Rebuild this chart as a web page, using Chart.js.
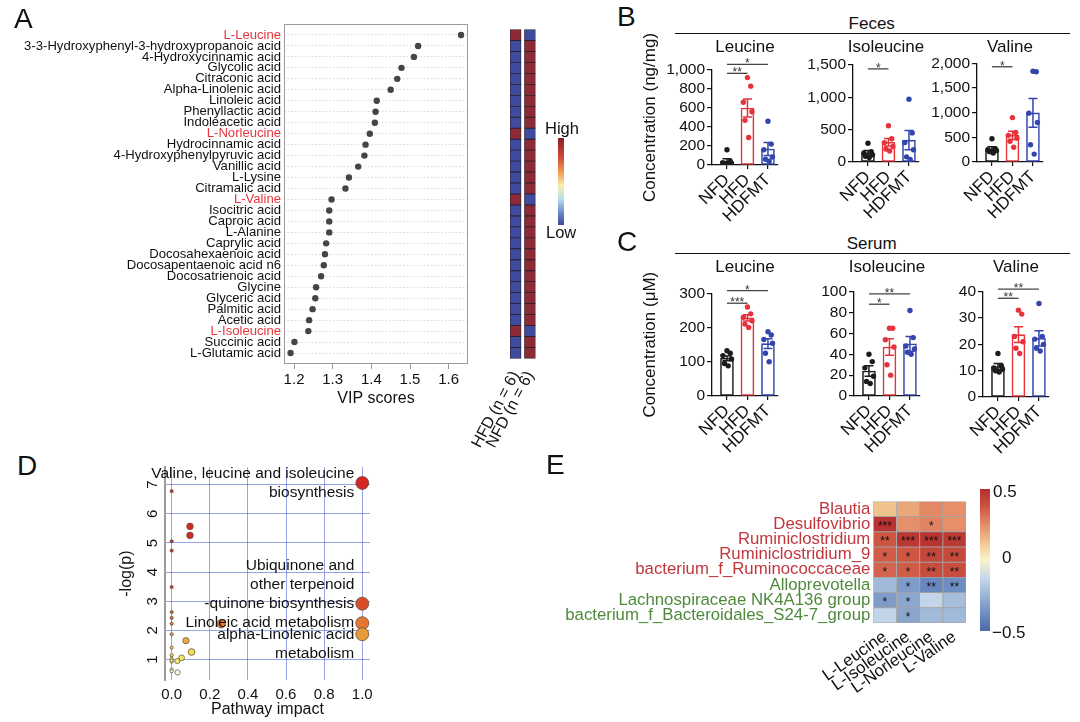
<!DOCTYPE html>
<html>
<head>
<meta charset="utf-8">
<title>BCAA figure</title>
<script src="https://cdn.jsdelivr.net/npm/chart.js@4.4.1/dist/chart.umd.min.js"></script>
<style>
  body { margin: 0; background: #fff; }
  #fig { position: relative; width: 1080px; height: 722px; overflow: hidden; background: #fff;
         font-family: "Liberation Sans", Arial, sans-serif; color: #111; }
  #fig canvas { position: absolute; }
  .txt { position: absolute; white-space: nowrap; line-height: 1; }
  .rule { position: absolute; height: 0; border-top: 1.5px solid #111; }
  .swatch { position: absolute; }
</style>
</head>
<body>
<div id="fig"></div>
<script>
/* globals Chart:false */

// ---- A: VIP scores of the discriminating metabolites
const metabolites = ['L-Leucine', '3-3-Hydroxyphenyl-3-hydroxypropanoic acid', '4-Hydroxycinnamic acid',
    'Glycolic acid', 'Citraconic acid', 'Alpha-Linolenic acid', 'Linoleic acid', 'Phenyllactic acid',
    'Indoleacetic acid', 'L-Norleucine', 'Hydrocinnamic acid', '4-Hydroxyphenylpyruvic acid', 'Vanillic acid',
    'L-Lysine', 'Citramalic acid', 'L-Valine', 'Isocitric acid', 'Caproic acid', 'L-Alanine', 'Caprylic acid',
    'Docosahexaenoic acid', 'Docosapentaenoic acid n6', 'Docosatrienoic acid', 'Glycine', 'Glyceric acid',
    'Palmitic acid', 'Acetic acid', 'L-Isoleucine', 'Succinic acid', 'L-Glutamic acid'];
const vipScores = [1.632, 1.521, 1.510, 1.478, 1.467, 1.450, 1.414, 1.411, 1.409, 1.396, 1.385, 1.382, 1.366,
    1.342, 1.333, 1.297, 1.291, 1.291, 1.291, 1.283, 1.280, 1.277, 1.270, 1.257, 1.255, 1.248, 1.239, 1.237,
    1.201, 1.191];
const vipTicks = [1.2, 1.3, 1.4, 1.5, 1.6];
const bcaaNames = ['L-Leucine', 'L-Norleucine', 'L-Valine', 'L-Isoleucine'];
const heatGroups = ['HFD (n = 6)', 'NFD (n = 6)'];
const hfdLevel = [1, 0, 0, 0, 0, 0, 0, 0, 0, 1, 0, 0, 0, 0, 0, 1, 0, 0, 0, 0, 0, 0, 0, 0, 0, 0, 0, 1, 0, 0];
const nfdLevel = [0, 1, 1, 1, 1, 1, 1, 1, 1, 0, 1, 1, 1, 1, 1, 0, 1, 1, 1, 1, 1, 1, 1, 1, 1, 1, 1, 0, 1, 1];

// ---- B / C: concentrations per group (points, mean, SEM)
const groups = ['NFD', 'HFD', 'HDFMT'];
const fecesLeuPoints = [[160, 40, 25, 15, 10, 5], [920, 830, 660, 560, 470, 290], [460, 220, 160, 85, 60, 40]];
const fecesLeuMean = [42, 600, 168];
const fecesLeuSem = [25, 95, 68];
const fecesLeuSig = [[0, 1, 965, '**'], [0, 2, 1060, '*']];

const fecesIlePoints = [[290, 160, 140, 110, 90, 70], [560, 360, 300, 240, 200, 170], [970, 450, 300, 190, 80, 40]];
const fecesIleMean = [143, 305, 338];
const fecesIleSem = [33, 58, 150];
const fecesIleSig = [[0, 1, 1440, '*']];

const fecesValPoints = [[470, 270, 250, 230, 210, 180], [900, 600, 540, 480, 420, 300], [1840, 1830, 990, 800, 350, 160]];
const fecesValMean = [268, 540, 995];
const fecesValSem = [42, 85, 290];
const fecesValSig = [[0, 1, 1930, '*']];

const serumLeuPoints = [[132, 125, 118, 108, 95, 88], [260, 240, 230, 220, 210, 200], [188, 178, 165, 154, 125, 100]];
const serumLeuMean = [110, 228, 153];
const serumLeuSem = [7, 9, 14];
const serumLeuSig = [[0, 1, 271, '***'], [0, 2, 308, '*']];

const serumIlePoints = [[40, 33, 27, 19, 14, 12], [65, 65, 54, 47, 30, 20], [82, 56, 48, 45, 42, 40]];
const serumIleMean = [24, 47, 50];
const serumIleSem = [5, 8, 7];
const serumIleSig = [[0, 1, 88, '*'], [0, 2, 98, '**']];

const serumValPoints = [[16.5, 12, 11, 10.5, 10, 9.5], [33, 31.5, 23, 21, 18.5, 16.5], [35.5, 23, 22, 20, 18.5, 17.5]];
const serumValMean = [11.6, 23.7, 22.3];
const serumValSem = [1.1, 3, 2.9];
const serumValSig = [[0, 1, 37.5, '**'], [0, 2, 41, '**']];

// ---- D: pathway analysis
const pathImpact = [1.0, 0, 0.096, 0.096, 0, 0, 0, 1.0, 0, 0, 0, 0.26, 1.0, 1.0, 0, 0.075, 0, 0.104, 0, 0, 0,
    0.052, 0.03, 0, 0, 0, 0.031];
const pathLogP = [7.06, 6.78, 5.57, 5.26, 5.06, 4.74, 3.49, 2.92, 2.63, 2.43, 2.23, 2.23, 2.25, 1.87, 1.87, 1.65,
    1.41, 1.26, 1.15, 1.03, 0.93, 1.06, 0.95, 0.97, 0.66, 0.6, 0.56];
const impactTicks = [0, 0.2, 0.4, 0.6, 0.8, 1.0];
const logPTicks = [1, 2, 3, 4, 5, 6, 7];
const pathwayNotes = [
    { i: 0, lines: ['Valine, leucine and isoleucine', 'biosynthesis'], anchor: 0.5 },
    { i: 7, lines: ['Ubiquinone and', 'other terpenoid', '-quinone biosynthesis'], anchor: 2 },
    { i: 12, lines: ['Linoleic acid metabolism'], anchor: 0 },
    { i: 13, lines: ['alpha-Linolenic acid', 'metabolism'], anchor: 0 }
];

// ---- E: correlation of taxa with amino acids
const taxa = ['Blautia', 'Desulfovibrio', 'Ruminiclostridium', 'Ruminiclostridium_9',
    'bacterium_f_Ruminococcaceae', 'Alloprevotella', 'Lachnospiraceae NK4A136 group',
    'bacterium_f_Bacteroidales_S24-7_group'];
const taxaUp = 5;
const aminoAcids = ['L-Leucine', 'L-Isoleucine', 'L-Norleucine', 'L-Valine'];
const corr = [
    [0.13, 0.19, 0.26, 0.24],
    [0.48, 0.24, 0.27, 0.24],
    [0.375, 0.47, 0.48, 0.46],
    [0.36, 0.37, 0.42, 0.41],
    [0.34, 0.36, 0.40, 0.40],
    [-0.23, -0.33, -0.40, -0.38],
    [-0.33, -0.29, -0.14, -0.22],
    [-0.14, -0.30, -0.23, -0.23]
];
const corrStars = [
    ['', '', '', ''],
    ['***', '', '*', ''],
    ['**', '***', '***', '***'],
    ['*', '*', '**', '**'],
    ['*', '*', '**', '**'],
    ['', '*', '**', '**'],
    ['*', '*', '', ''],
    ['', '*', '', '']
];

// ---- styles
const groupColors = ['#1c1c1c', '#e5323b', '#3446ad'];
const jitter = [0, 0.16, -0.2, 0.22, -0.12, 0.06];
const corrStops = [[-0.5, [74, 106, 168]], [-0.375, [112, 142, 194]], [-0.25, [155, 180, 214]],
    [-0.125, [200, 218, 234]], [0, [249, 244, 200]], [0.125, [240, 196, 142]], [0.25, [228, 140, 104]],
    [0.375, [205, 85, 66]], [0.5, [180, 45, 46]]];
const pathStops = [[0.5, [250, 250, 250]], [0.95, [245, 238, 110]], [1.3, [238, 220, 70]], [1.7, [234, 168, 60]],
    [2.3, [226, 115, 48]], [3.0, [215, 72, 42]], [5.0, [206, 44, 38]], [7.1, [210, 40, 36]]];
const FONT = '"Liberation Sans", Arial, sans-serif';

Chart.defaults.font.family = FONT;
Chart.defaults.color = '#111';
Chart.defaults.animation = false;
Chart.defaults.responsive = false;
Chart.defaults.events = [];
Chart.defaults.plugins.legend.display = false;
Chart.defaults.plugins.tooltip.enabled = false;

var fig = document.getElementById('fig');

function addCanvas(x, y, w, h) {
    var c = document.createElement('canvas');
    c.width = Math.round(w);
    c.height = Math.round(h);
    c.style.left = Math.round(x) + 'px';
    c.style.top = Math.round(y) + 'px';
    fig.appendChild(c);
    return c;
}

function addText(text, x, y, size, opts) {
    opts = opts || {};
    var d = document.createElement('div');
    d.className = 'txt';
    d.textContent = text;
    d.style.left = x + 'px';
    d.style.top = y + 'px';
    d.style.fontSize = size + 'px';
    d.style.transform = opts.center ? 'translate(-50%,-50%)' : 'translate(0,-50%)';
    if (opts.color) d.style.color = opts.color;
    fig.appendChild(d);
}

function addRule(x1, x2, y) {
    var d = document.createElement('div');
    d.className = 'rule';
    d.style.left = x1 + 'px';
    d.style.top = y + 'px';
    d.style.width = (x2 - x1) + 'px';
    fig.appendChild(d);
}

function addSwatch(x, y, w, h, bg) {
    var d = document.createElement('div');
    d.className = 'swatch';
    Object.assign(d.style, { left: x + 'px', top: y + 'px', width: w + 'px', height: h + 'px', background: bg });
    fig.appendChild(d);
}

function mix(stops, v) {
    var rgb = c => `rgb(${c.map(Math.round).join(',')})`;
    if (v <= stops[0][0]) return rgb(stops[0][1]);
    for (var i = 1; i < stops.length; i++) {
        if (v <= stops[i][0]) {
            var a = stops[i - 1], b = stops[i], t = (v - a[0]) / (b[0] - a[0]);
            return rgb(a[1].map((c, k) => c + (b[1][k] - c) * t));
        }
    }
    return rgb(stops[stops.length - 1][1]);
}

// ================= Panel A =================
const frame = {
    id: 'frame',
    beforeDatasetsDraw(chart) {
        var a = chart.chartArea, g = chart.ctx;
        g.save();
        g.strokeStyle = '#9a9a9a';
        g.lineWidth = 1;
        g.strokeRect(Math.round(a.left) + 0.5, Math.round(a.top) + 0.5, Math.round(a.width) - 1, Math.round(a.height) - 1);
        g.restore();
    }
};

new Chart(addCanvas(0, 0, 472, 414), {
    type: 'scatter',
    data: {
        datasets: [{
            data: vipScores.map((v, i) => ({ x: v, y: i })),
            pointRadius: 3.2,
            backgroundColor: '#454545',
            borderWidth: 0
        }]
    },
    options: {
        layout: { padding: { top: 24, right: 2 } },
        scales: {
            x: {
                type: 'linear', min: 1.174, max: 1.65,
                afterBuildTicks: s => { s.ticks = vipTicks.map(v => ({ value: v })); },
                afterFit: s => { s.height = 50; },
                grid: { drawOnChartArea: false, tickLength: 5, color: '#999' },
                border: { display: false },
                ticks: { autoSkip: false, font: { size: 15 }, padding: 2, callback: v => v.toFixed(1) },
                title: { display: true, text: 'VIP scores', font: { size: 16 }, padding: { top: 0, bottom: 6 } }
            },
            y: {
                type: 'linear', reverse: true, min: -1, max: 30,
                afterBuildTicks: s => { s.ticks = metabolites.map((m, i) => ({ value: i })); },
                afterFit: s => { s.width = 284; },
                grid: { color: '#cfcfcf', lineWidth: 0.8, drawTicks: false },
                border: { display: false, dash: [1.5, 2] },
                ticks: {
                    autoSkip: false, padding: 3, font: { size: 13.1, lineHeight: 1 },
                    color: c => bcaaNames.includes(metabolites[c.index]) ? '#e8353d' : '#111',
                    callback: v => metabolites[v]
                }
            }
        }
    },
    plugins: [frame]
});

const heatSpans = [[0, 1], [1.3, 2.3]];
const levelColor = lvl => lvl ? '#8c2a36' : '#3f4b9e';

new Chart(addCanvas(430, 0, 124, 459), {
    type: 'bar',
    data: {
        datasets: [hfdLevel, nfdLevel].map((lv, j) => ({
            data: lv.map((v, i) => ({ y: i, x: heatSpans[j] })),
            backgroundColor: lv.map(levelColor),
            borderColor: '#2a1f2e',
            borderWidth: 0.8,
            borderSkipped: false,
            grouped: false,
            categoryPercentage: 1,
            barPercentage: 1
        }))
    },
    options: {
        indexAxis: 'y',
        layout: { padding: { left: 80, top: 24, right: 14 } },
        scales: {
            y: { type: 'linear', reverse: true, min: -1, max: 30, offset: false, display: false },
            x: {
                type: 'linear', min: 0, max: 2.3, offset: false,
                afterBuildTicks: s => { s.ticks = heatSpans.map(sp => ({ value: (sp[0] + sp[1]) / 2 })); },
                afterFit: s => { s.height = 95; },
                grid: { display: false, drawTicks: false },
                border: { display: false },
                ticks: { autoSkip: false, minRotation: 62, maxRotation: 62, padding: 4, font: { size: 16 }, callback: (v, i) => heatGroups[i] }
            }
        }
    }
});

addText('High', 545, 128, 16.5);
addSwatch(558, 138, 6, 87, 'linear-gradient(to bottom, #8b1d2c 0%, #cf4a3a 22%, #f0a050 40%, #f7f0b0 55%, #b8dcec 70%, #6d8fc8 85%, #3b49a0 100%)');
addText('Low', 546, 232, 16.5);

// ================= Panels B / C =================
function groupPlot(cfg) {
    var yw = cfg.yTitle ? 74 : 52, xh = 62, padR = 14, areaW = 66;
    var left = cfg.ax - yw, top = cfg.titleY - 16;
    var w = yw + areaW + padR, h = cfg.bottom - top + xh;

    var extras = {
        id: 'extras',
        afterDatasetsDraw(chart) {
            var xs = chart.scales.x, ys = chart.scales.y, g = chart.ctx, a = chart.chartArea;
            g.save();
            g.lineWidth = 1.5;
            cfg.means.forEach((m, k) => {
                var x = xs.getPixelForValue(k), y1 = ys.getPixelForValue(m + cfg.sems[k]), y0 = ys.getPixelForValue(m - cfg.sems[k]);
                g.strokeStyle = groupColors[k];
                g.beginPath();
                g.moveTo(x, y0); g.lineTo(x, y1);
                g.moveTo(x - 4.5, y1); g.lineTo(x + 4.5, y1);
                g.moveTo(x - 4.5, y0); g.lineTo(x + 4.5, y0);
                g.stroke();
            });
            g.strokeStyle = '#444';
            g.fillStyle = '#333';
            g.lineWidth = 1.3;
            g.font = '12px ' + FONT;
            g.textAlign = 'center';
            g.textBaseline = 'alphabetic';
            cfg.sigs.forEach(s => {
                var x0 = xs.getPixelForValue(s[0]), x1 = xs.getPixelForValue(s[1]), y = ys.getPixelForValue(s[2]);
                g.beginPath();
                g.moveTo(x0, y); g.lineTo(x1, y);
                g.stroke();
                g.fillText(s[3], (x0 + x1) / 2, y + 3);
            });
            // panel title, centred over the plot area
            g.fillStyle = '#111';
            g.font = '17px ' + FONT;
            g.textBaseline = 'middle';
            g.fillText(cfg.title, (a.left + a.right) / 2, cfg.titleY - top);
            g.restore();
        }
    };

    new Chart(addCanvas(left, top, w, h), {
        type: 'bar',
        data: {
            datasets: [{
                type: 'scatter',
                data: cfg.points.flatMap((arr, k) => arr.map((v, n) => ({ x: k + jitter[n], y: v }))),
                backgroundColor: cfg.points.flatMap((arr, k) => arr.map(() => groupColors[k])),
                pointRadius: 2.7,
                borderWidth: 0
            }, {
                data: cfg.means.map((m, k) => ({ x: k, y: m })),
                backgroundColor: '#fff',
                borderColor: groupColors,
                borderWidth: 1.6,
                borderSkipped: false,
                barThickness: 13
            }]
        },
        options: {
            layout: { padding: { top: cfg.top - Math.round(top), left: 0, right: padR, bottom: 0 } },
            scales: {
                x: {
                    type: 'linear', min: -0.73, max: 2.49, offset: false,
                    afterBuildTicks: s => { s.ticks = groups.map((gname, i) => ({ value: i })); },
                    afterFit: s => { s.height = xh; },
                    ticks: { autoSkip: false, minRotation: 45, maxRotation: 45, padding: 1, font: { size: 17 }, callback: (v, i) => groups[i] },
                    grid: { drawOnChartArea: false, offset: false, tickLength: 4, color: '#111', lineWidth: 1.2 },
                    border: { color: '#111', width: 1.3 }
                },
                y: {
                    min: 0, max: cfg.yMax,
                    afterFit: s => { s.width = yw; },
                    ticks: { autoSkip: false, stepSize: cfg.yStep, padding: 2, font: { size: 15.5 }, callback: v => v.toLocaleString('en-US') },
                    grid: { drawOnChartArea: false, tickLength: 5, color: '#111', lineWidth: 1.2 },
                    border: { color: '#111', width: 1.3 },
                    title: {
                        display: !!cfg.yTitle, text: cfg.yTitle || '', font: { size: 17 },
                        padding: { top: 2.5, bottom: 0 }
                    }
                }
            }
        },
        plugins: [extras]
    });
}

addText('Feces', 871.7, 23.3, 17, { center: true });
addRule(675, 1070, 33);
addText('Serum', 871.7, 243.3, 17, { center: true });
addRule(675, 1070, 253.3);

groupPlot({ title: 'Leucine', ax: 712.3, titleY: 46.5, top: 70, bottom: 164, yMax: 1000, yStep: 200,
    points: fecesLeuPoints, means: fecesLeuMean, sems: fecesLeuSem, sigs: fecesLeuSig, yTitle: 'Concentration (ng/mg)' });
groupPlot({ title: 'Isoleucine', ax: 852.7, titleY: 46.5, top: 65, bottom: 161, yMax: 1500, yStep: 500,
    points: fecesIlePoints, means: fecesIleMean, sems: fecesIleSem, sigs: fecesIleSig });
groupPlot({ title: 'Valine', ax: 977.3, titleY: 46.5, top: 63.3, bottom: 161, yMax: 2000, yStep: 500,
    points: fecesValPoints, means: fecesValMean, sems: fecesValSem, sigs: fecesValSig });

groupPlot({ title: 'Leucine', ax: 712.3, titleY: 266.7, top: 293.3, bottom: 396, yMax: 300, yStep: 100,
    points: serumLeuPoints, means: serumLeuMean, sems: serumLeuSem, sigs: serumLeuSig, yTitle: 'Concentration (μM)' });
groupPlot({ title: 'Isoleucine', ax: 854, titleY: 266.7, top: 291.7, bottom: 396, yMax: 100, yStep: 20,
    points: serumIlePoints, means: serumIleMean, sems: serumIleSem, sigs: serumIleSig });
groupPlot({ title: 'Valine', ax: 982.7, titleY: 266.7, top: 291.7, bottom: 396.7, yMax: 40, yStep: 10,
    points: serumValPoints, means: serumValMean, sems: serumValSem, sigs: serumValSig });

// ================= Panel D =================
const pathwayLabels = {
    id: 'pathwayLabels',
    afterDatasetsDraw(chart) {
        var xs = chart.scales.x, ys = chart.scales.y, g = chart.ctx;
        g.save();
        g.fillStyle = '#111';
        g.font = '15.5px ' + FONT;
        g.textAlign = 'right';
        g.textBaseline = 'middle';
        pathwayNotes.forEach(n => {
            var px = xs.getPixelForValue(pathImpact[n.i]) - 8, py = ys.getPixelForValue(pathLogP[n.i]);
            n.lines.forEach((line, k) => g.fillText(line, px, py + (k - n.anchor) * 19));
        });
        // y tick labels run along the axis
        g.textAlign = 'center';
        g.font = '15px ' + FONT;
        ys.ticks.forEach(t => {
            g.save();
            g.translate(chart.chartArea.left - 11.7, ys.getPixelForValue(t.value));
            g.rotate(-Math.PI / 2);
            g.fillText(String(t.value), 0, 0);
            g.restore();
        });
        g.restore();
    }
};

new Chart(addCanvas(110, 460, 269, 262), {
    type: 'bubble',
    data: {
        datasets: [{
            data: pathImpact.map((x, i) => ({ x: x, y: pathLogP[i], r: 1.6 + 4.9 * Math.pow(x, 0.45) })),
            backgroundColor: pathLogP.map(p => mix(pathStops, p)),
            borderColor: '#5a463c',
            borderWidth: 0.7
        }]
    },
    options: {
        layout: { padding: { top: 5, right: 8 } },
        scales: {
            x: {
                type: 'linear', min: -0.035, max: 1.04,
                afterBuildTicks: s => { s.ticks = impactTicks.map(v => ({ value: v })); },
                afterFit: s => { s.height = 42; },
                grid: { color: 'rgba(70,90,210,0.55)', lineWidth: 1, drawTicks: false },
                border: { display: false },
                ticks: { autoSkip: false, padding: 6, font: { size: 15 }, callback: v => v.toFixed(1) },
                title: { display: true, text: 'Pathway impact', font: { size: 16 }, padding: { top: 0, bottom: 2.4 } }
            },
            y: {
                type: 'linear', min: 0.3, max: 7.6,
                afterBuildTicks: s => { s.ticks = logPTicks.map(v => ({ value: v })); },
                afterFit: s => { s.width = 55; },
                grid: { color: 'rgba(70,90,210,0.55)', lineWidth: 1, drawTicks: false },
                border: { color: '#9a9a9a', width: 2 },
                ticks: { display: false },
                title: { display: true, text: '-log(p)', font: { size: 16 }, padding: { top: 7.4, bottom: 0 } }
            }
        }
    },
    plugins: [pathwayLabels]
});

// ================= Panel E =================
const starPlugin = {
    id: 'stars',
    afterDatasetsDraw(chart) {
        var g = chart.ctx;
        g.save();
        g.fillStyle = '#111';
        g.font = '12px ' + FONT;
        g.textAlign = 'center';
        g.textBaseline = 'alphabetic';
        aminoAcids.forEach((aa, j) => {
            chart.getDatasetMeta(j).data.forEach((el, i) => {
                var s = corrStars[i][j];
                if (!s) return;
                var p = el.getCenterPoint();
                g.fillText(s, p.x, p.y + 6);
            });
        });
        g.restore();
    }
};

new Chart(addCanvas(540, 490, 440, 208), {
    type: 'bar',
    data: {
        labels: taxa,
        datasets: aminoAcids.map((aa, j) => ({
            label: aa,
            data: taxa.map(t => ({ y: t, x: [j, j + 1] })),
            backgroundColor: corr.map(r => mix(corrStops, r[j])),
            borderColor: '#a3a3a3',
            borderWidth: 0.8,
            borderSkipped: false,
            grouped: false,
            categoryPercentage: 1,
            barPercentage: 1
        }))
    },
    options: {
        indexAxis: 'y',
        layout: { padding: { top: 7, right: 14 } },
        scales: {
            y: {
                afterFit: s => { s.width = 333.3; },
                grid: { display: false, drawTicks: false },
                border: { display: false },
                ticks: {
                    autoSkip: false, padding: 3, font: { size: 16.8, lineHeight: 1 },
                    color: c => c.index < taxaUp ? '#c0373d' : '#4f8a3c'
                }
            },
            x: {
                type: 'linear', min: 0, max: 4,
                afterBuildTicks: s => { s.ticks = aminoAcids.map((a, i) => ({ value: i + 0.5 })); },
                afterFit: s => { s.height = 75; },
                grid: { display: false, drawTicks: false },
                border: { display: false },
                ticks: { autoSkip: false, minRotation: 35, maxRotation: 35, padding: 4, font: { size: 16.8 }, callback: (v, i) => aminoAcids[i] }
            }
        }
    },
    plugins: [starPlugin]
});

addSwatch(980, 489, 10, 142, 'linear-gradient(to bottom, ' +
    corrStops.slice().reverse().map((s, i, arr) => `rgb(${s[1].join(',')}) ${(i / (arr.length - 1) * 100).toFixed(1)}%`).join(', ') + ')');
addText('0.5', 993, 491, 17);
addText('0', 1002, 557, 17);
addText('\u22120.5', 992, 632, 17);

// ---- panel letters
addText('A', 14, 19.2, 28);
addText('B', 617, 16.7, 28);
addText('C', 617, 241.7, 28);
addText('D', 17, 465.5, 28);
addText('E', 546, 465, 28);
</script>
</body>
</html>
